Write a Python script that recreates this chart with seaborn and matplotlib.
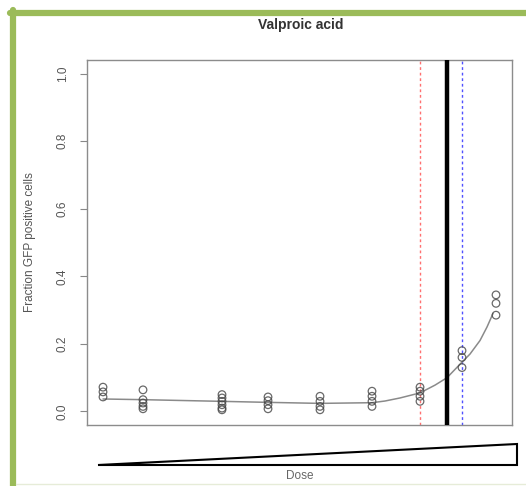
import matplotlib
matplotlib.use("Agg")
import matplotlib.pyplot as plt
from matplotlib.patches import Polygon
from matplotlib.lines import Line2D
import seaborn as sns
import pandas as pd

# dose groups (position along the dose axis) and measured fractions
dose_pos = [1.6, 5.6, 13.5, 18.1, 23.3, 28.5, 33.3, 37.5, 40.9]
group_vals = [
    [0.072, 0.058, 0.043],
    [0.064, 0.035, 0.025, 0.015, 0.008],
    [0.050, 0.040, 0.030, 0.020, 0.010, 0.005],
    [0.043, 0.032, 0.020, 0.008],
    [0.045, 0.030, 0.015, 0.005],
    [0.060, 0.045, 0.030, 0.015],
    [0.072, 0.060, 0.045, 0.030],
    [0.180, 0.160, 0.130],
    [0.345, 0.320, 0.285],
]

# fitted curve
curve_x = [1.6, 5.6, 10.3, 13.5, 18.1, 23.3, 28.5, 29.8, 31.3, 33.3, 34.8,
           36.0, 37.5, 38.3, 39.3, 40.0, 40.6]
curve_y = [0.037, 0.035, 0.032, 0.030, 0.027, 0.024, 0.026, 0.031, 0.040,
           0.055, 0.078, 0.100, 0.146, 0.170, 0.210, 0.250, 0.290]

red_line, black_line, blue_line = 33.3, 36.0, 37.5

rows = [(x, v) for x, vals in zip(dose_pos, group_vals) for v in vals]
df = pd.DataFrame(rows, columns=["dose", "frac"])
curve = pd.DataFrame({"dose": curve_x, "frac": curve_y})

sns.set_style("white")
plt.rcParams["font.family"] = ["Liberation Sans", "DejaVu Sans"]

fig = plt.figure(figsize=(5.26, 4.86), dpi=100)
ax = fig.add_axes([0.1654, 0.1255, 0.808, 0.751])

sns.lineplot(data=curve, x="dose", y="frac", color="#8a8a8a", lw=1.1,
             sort=True, ax=ax, zorder=2)
sns.scatterplot(data=df, x="dose", y="frac", marker="o", s=30,
                facecolor="none", edgecolor="#444444", linewidth=0.9,
                alpha=0.8, ax=ax, zorder=3)

ax.axvline(red_line, color="#ff7070", ls=(0, (2, 2)), lw=1.0, zorder=1)
ax.axvline(black_line, color="black", lw=3.2, zorder=4)
ax.axvline(blue_line, color="#5050ff", ls=(0, (2, 2)), lw=1.0, zorder=1)

ax.set_xlim(0, 42.5)
ax.set_ylim(-0.04, 1.04)
ax.set_xticks([])
ax.set_yticks([0.0, 0.2, 0.4, 0.6, 0.8, 1.0])
ax.set_yticklabels(["0.0", "0.2", "0.4", "0.6", "0.8", "1.0"],
                   rotation=90, va="center", fontsize=8.5, color="#555555")
ax.tick_params(axis="y", left=True, length=5, width=0.8, color="#888888", pad=8)
for sp in ax.spines.values():
    sp.set_color("#8c8c8c")
    sp.set_linewidth(1.0)
ax.set_xlabel("")
ax.set_ylabel("Fraction GFP positive cells", fontsize=8.5, color="#555555")
ax.yaxis.set_label_coords(-0.12, 0.5)

fig.text(0.571, 0.948, "Valproic acid", ha="center", va="center",
         fontsize=10, fontweight="bold", color="#333333")

# dose wedge below the plot
W, H = 526, 486
wedge = Polygon([(98 / W, 1 - 465 / H), (517 / W, 1 - 444 / H),
                 (517 / W, 1 - 465 / H)], closed=True, facecolor="white",
                edgecolor="black", lw=1.5, transform=fig.transFigure)
fig.patches.append(wedge)
fig.text(300 / W, 1 - 476 / H, "Dose", ha="center", va="center",
         fontsize=8.5, color="#666666")

# green slide frame
green = "#9bbb59"
fig.lines.append(Line2D([13 / W, 13 / W], [0, 1 - 10 / H], color=green,
                        lw=4.5, transform=fig.transFigure))
fig.lines.append(Line2D([10 / W, 1], [1 - 13 / H, 1 - 13 / H], color=green,
                        lw=4.5, transform=fig.transFigure))
fig.lines.append(Line2D([16 / W, 1], [1 - 484 / H, 1 - 484 / H],
                        color="#e6ecd8", lw=1.0, transform=fig.transFigure))

fig.savefig("out.png", dpi=100)
